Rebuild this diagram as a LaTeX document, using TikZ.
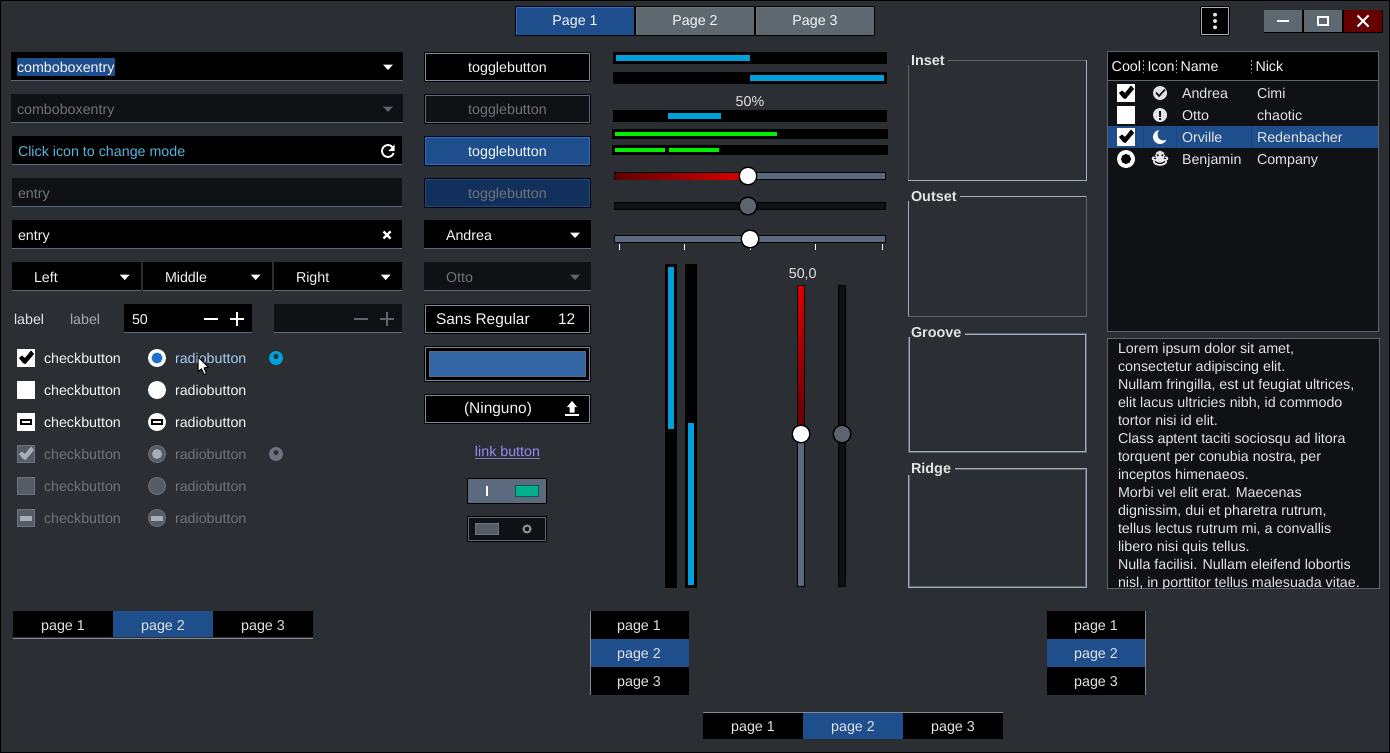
\documentclass[tikz,border=0pt]{standalone}
\usepackage{fontspec}
\setmainfont{Liberation Sans}
\definecolor{bg}{HTML}{2B2E33}
\definecolor{dis}{HTML}{0F1115}
\definecolor{slate}{HTML}{5C6A80}
\definecolor{ring}{HTML}{7D899C}
\definecolor{selb}{HTML}{1F4E8C}
\definecolor{selbb}{HTML}{2A70D0}
\definecolor{selbd}{HTML}{12305C}
\definecolor{selbdb}{HTML}{1C4A85}
\definecolor{prog}{HTML}{00A0DB}
\definecolor{dtx}{HTML}{6F737A}
\definecolor{darr}{HTML}{5D6470}
\definecolor{hdr}{HTML}{5D6870}
\definecolor{dbox}{HTML}{555C66}
\definecolor{dboxb}{HTML}{6B7380}
\definecolor{dmark}{HTML}{A8AEB8}
\definecolor{fdark}{HTML}{5C6470}
\definecolor{flight}{HTML}{A0B0C0}
\definecolor{txt}{HTML}{F6F6F6}
\definecolor{lbl}{HTML}{E4E4E4}
\definecolor{closebg}{HTML}{660000}
\definecolor{phblue}{HTML}{5AB4E0}
\definecolor{lbltwo}{HTML}{A8A8A8}
\definecolor{radblue}{HTML}{1F70D0}
\definecolor{raddis}{HTML}{6E7280}
\definecolor{linkc}{HTML}{8F8CF5}
\definecolor{linku}{HTML}{8B6FC0}
\definecolor{swatch}{HTML}{3465A4}
\definecolor{tealb}{HTML}{0A5A50}
\definecolor{teal2}{HTML}{00B08D}
\definecolor{swc}{HTML}{8A8F98}
\definecolor{lvl}{HTML}{00F000}
\definecolor{rdark}{HTML}{600000}
\definecolor{rlite}{HTML}{DC0000}
\definecolor{hdis}{HTML}{5C656F}
\definecolor{sepc}{HTML}{A0A0A0}
\definecolor{tabl}{HTML}{858A92}
\definecolor{selsep}{HTML}{1A4478}
\definecolor{hov}{HTML}{A4CFF5}
\newcounter{tn}
\tikzset{
  tx/.style={inner sep=0pt,outer sep=0pt,font=\fontsize{10.7pt}{13pt}\selectfont},
  px/.style={line width=0.75pt},
  pxx/.style={line width=1.5pt},
  bld/.style={font=\fontsize{10.8pt}{13pt}\selectfont\bfseries},
  big/.style={font=\fontsize{11.6pt}{13pt}\selectfont},
}
\newcommand\TL[5][]{\stepcounter{tn}\node[tx,anchor=base west,text=#4,#1] (t\arabic{tn}) at (#2,#3) {#5};}
\newcommand\TC[5][]{\stepcounter{tn}\node[tx,anchor=base,text=#4,#1] (t\arabic{tn}) at (#2,#3) {#5};}
\newcommand\Rc[5]{\fill[#5] (#1,#2) rectangle (#3,#4);}
\newcommand\Frm[6]{\fill[black] (#1,#2) rectangle (#3,#4);
  \fill[#6] ({#1+1},{#2+1}) rectangle ({#3-1},{#4-1});
  \fill[#5] ({#1+2},{#2+2}) rectangle ({#3-2},{#4-2});}
\newcommand\Ent[5]{\fill[#5] (#1,#2) rectangle (#3,{#4-1.3});\fill[slate] (#1,{#4-1.3}) rectangle (#3,#4);}
\newcommand\Arr[3]{\fill[#3] ({#1-5},{#2-2.5}) -- ({#1+5},{#2-2.5}) -- (#1,{#2+3}) -- cycle;}
\newcommand\ChkMark[3]{\fill[#3] ({#1+2},{#2+9}) -- ({#1+5},{#2+6.5}) -- ({#1+8},{#2+9}) -- ({#1+14},{#2+1.5}) -- ({#1+17},{#2+5}) -- ({#1+8.5},{#2+15}) -- ({#1+6},{#2+14}) -- cycle;}
\newcommand\Handle[4]{\fill[black] (#1,#2) circle (9.5);\fill[#3] (#1,#2) circle (#4);}
\begin{document}
\begin{tikzpicture}[x=0.75pt,y=-0.75pt]
\useasboundingbox (0,0) rectangle (1390,753);
\fill[black] (0,0) rectangle (1390,753);
\fill[bg] (1,1) rectangle (1389,752);

% ---- title bar
\fill[black] (515,6) rectangle (875,36);
\fill[selb] (516,7) rectangle (634,35);
\fill[hdr] (636,7) rectangle (754,35);
\fill[hdr] (756,7) rectangle (874,35);
\draw[selbb,px] (516.5,34.5) -- (516.5,7.5) -- (633.5,7.5);
\draw[dboxb,px] (636.5,34.5) -- (636.5,7.5) -- (753.5,7.5);
\draw[dboxb,px] (756.5,34.5) -- (756.5,7.5) -- (873.5,7.5);
\TC{575}{26}{txt}{Page 1}
\TC{695}{26}{txt}{Page 2}
\TC{815}{26}{txt}{Page 3}
\Frm{1200}{6}{1230}{36}{black}{dmark}
\foreach \yy in {14.7,21,27.3} {\fill[lbl] (1215,\yy) circle (2);}
\fill[black] (1264,10) rectangle (1383,33);
\fill[hdr] (1264,10) rectangle (1302,32);
\fill[hdr] (1304,10) rectangle (1342,32);
\fill[closebg] (1344,10) rectangle (1382,32);
\fill[white] (1277,20) rectangle (1289,22);
\draw[white,pxx] (1318,17) rectangle (1328,25);
\draw[white,pxx] (1357.5,15.5) -- (1368.5,26.5) (1368.5,15.5) -- (1357.5,26.5);

% ---- left column entries
\Ent{11}{52}{403}{81.3}{black}
\Rc{17}{58}{115}{76}{selb}
\TL{17}{72}{txt}{comboboxentry}
\Arr{388}{67}{white}
\Ent{11}{94}{403}{123.3}{dis}
\TL{17}{114}{dtx}{comboboxentry}
\Arr{388}{109}{darr}
\Ent{12}{136}{402}{165.3}{black}
\TL{18}{156}{phblue}{Click icon to change mode}
\draw[white,line width=1.4pt] ([shift={(20:6)}]388,151) arc[start angle=20,end angle=320,radius=6];
\fill[white] (394.5,144.5) -- (394.5,151) -- (388.5,151) -- cycle;
\Ent{12}{178}{402}{207.3}{dis}
\TL{18}{198}{dtx}{entry}
\Ent{12}{220}{402}{249.3}{black}
\TL{18}{240}{txt}{entry}
\draw[white,line width=1.8pt] (383.5,231.5) -- (390.5,238.5) (390.5,231.5) -- (383.5,238.5);
\Ent{12}{262}{141}{291.3}{black}
\Ent{143}{262}{272}{291.3}{black}
\Ent{274}{262}{402}{291.3}{black}
\TL{34}{282}{txt}{Left}
\TL{165}{282}{txt}{Middle}
\TL{296}{282}{txt}{Right}
\Arr{124.7}{277}{white}
\Arr{255.7}{277}{white}
\Arr{385.7}{277}{white}
\TL{14}{324}{lbl}{label}
\TL{70}{324}{lbltwo}{label}
\Ent{124}{304}{252}{333.3}{black}
\TL{132}{324}{txt}{50}
\fill[white] (204,318) rectangle (218,320);
\fill[white] (230,318) rectangle (244,320);
\fill[white] (236,312) rectangle (238,326);
\Ent{274}{304}{402}{333.3}{dis}
\fill[darr] (354,318) rectangle (368,320);
\fill[darr] (380,318) rectangle (394,320);
\fill[darr] (386,312) rectangle (388,326);

% ---- check buttons
\fill[white] (17,349) rectangle (35,367); \ChkMark{17}{349}{black}
\fill[white] (17,381) rectangle (35,399);
\fill[white] (17,413) rectangle (35,431);
\fill[black] (20,419) rectangle (32,425); \fill[white] (22,421) rectangle (30,423);
\foreach \yy in {445,477,509} {\fill[dbox] (17,\yy) rectangle (35,{\yy+18}); \draw[dboxb,px] (17.5,{\yy+.5}) rectangle (34.5,{\yy+17.5});}
\ChkMark{17}{445}{dmark}
\fill[dmark] (20,515.5) rectangle (32,520.5);
\foreach \yy in {363,395,427} {\TL{44}{\yy}{txt}{checkbutton}}
\foreach \yy in {459,491,523} {\TL{44}{\yy}{dtx}{checkbutton}}
% ---- radios
\fill[white] (157,358) circle (9); \fill[radblue] (157,358) circle (5.5);
\fill[white] (157,390) circle (9);
\fill[white] (157,422) circle (9);
\fill[black] (151,419) rectangle (163,425); \fill[white] (153,421) rectangle (161,423);
\foreach \yy in {454,486,518} {\fill[dboxb] (157,\yy) circle (9); \fill[dbox] (157,\yy) circle (8);}
\fill[dmark] (157,454) circle (5);
\fill[dmark] (151,515.5) rectangle (163,520.5);
\TL{175}{363}{hov}{radiobutton}
\foreach \yy in {395,427} {\TL{175}{\yy}{txt}{radiobutton}}
\foreach \yy in {459,491,523} {\TL{175}{\yy}{dtx}{radiobutton}}
\fill[prog] (276,358) circle (7); \fill[bg] (276,356.5) circle (2.5);
\fill[raddis] (276,454) circle (7); \fill[bg] (276,452.5) circle (2.5);
% cursor
\draw[black,px,fill=white,line join=round] (198,357) -- (198,372) -- (201.5,368.8) -- (204,374.5) -- (206.5,373.5) -- (204,367.8) -- (208.5,367.5) -- cycle;

% ---- second column
\Frm{424}{52}{591}{82}{black}{ring}
\TC{507.5}{72}{txt}{togglebutton}
\Frm{424}{94}{591}{124}{dis}{slate}
\TC{507.5}{114}{dtx}{togglebutton}
\Frm{424}{136}{591}{166}{selb}{selbb}
\TC{507.5}{156}{txt}{togglebutton}
\Frm{424}{178}{591}{208}{selbd}{selbdb}
\TC{507.5}{198}{dtx}{togglebutton}
\Ent{424}{220}{591}{249.3}{black}
\TL{446}{240}{txt}{Andrea}
\Arr{575}{235}{white}
\Ent{424}{262}{591}{291.3}{dis}
\TL{446}{282}{dtx}{Otto}
\Arr{575}{277}{darr}
\Frm{424}{304}{591}{334}{black}{ring}
\TL[big]{436}{324}{txt}{Sans Regular}
\TL[big]{558}{324}{txt}{12}
\Frm{424}{346}{591}{382}{black}{ring}
\fill[slate] (429,351) rectangle (586,377);
\fill[swatch] (430,352) rectangle (585,376);
\Frm{424}{394}{591}{424}{black}{ring}
\TC[big]{498}{413}{txt}{(Ninguno)}
\fill[white] (572,401) -- (577,407) -- (574.5,407) -- (574.5,412.5) -- (569.5,412.5) -- (569.5,407) -- (567,407) -- cycle;
\fill[white] (565,413.8) rectangle (579,415.8);
\TC{507.5}{456}{linkc}{link button}
\fill[linku] (475,458) rectangle (540,459);
\fill[black] (467,478) rectangle (547,504); \fill[slate] (468,479) rectangle (546,503);
\fill[white] (486,486) rectangle (488.3,496);
\fill[tealb] (515,485) rectangle (539,497);
\fill[teal2] (516,486) rectangle (538,496);
\fill[black] (467,516) rectangle (547,542); \fill[slate] (468,517) rectangle (546,541); \fill[dis] (469,518) rectangle (545,540);
\fill[dboxb] (475,523) rectangle (499,535); \fill[dbox] (476,524) rectangle (498,534);
\draw[swc,line width=1.5pt] (527,529) circle (3.5);

% ---- progress bars
\Rc{613}{52}{887}{64}{black}
\Rc{616}{55}{750}{61}{prog}
\Rc{613}{72}{887}{84}{black}
\Rc{750}{75}{884}{81}{prog}
\TC{750}{106}{lbl}{50\%}
\Rc{613}{110}{887}{122}{black}
\Rc{668}{113}{721}{119}{prog}
\Rc{612}{129}{888}{139}{black}
\Rc{615}{132}{777}{136}{lvl}
\Rc{612}{145}{888}{155}{black}
\Rc{615}{148}{665}{152}{lvl}
\Rc{669}{148}{719}{152}{lvl}
% horizontal scales
\Rc{614}{172}{886}{180}{black}
\fill[slate] (748,173) rectangle (885,179);
\shade[left color=rdark,right color=rlite] (615,173) rectangle (748,179);
\Handle{748}{176}{white}{8}
\Rc{614}{202}{886}{210}{black}
\Rc{615}{203}{885}{209}{dis}
\Handle{748}{206}{hdis}{8}
\Rc{614}{235}{886}{243}{black}
\Rc{615}{236}{885}{242}{slate}
\foreach \xx in {619.3,684.3,815.3,881.7} {\fill[white] (\xx,244) rectangle ({\xx+1},250);}
\fill[white] (750.3,248) rectangle (751.3,250);
\Handle{750}{239}{white}{8}
% vertical progress
\Rc{665}{264}{677}{588}{black}
\Rc{668}{267}{674}{429}{prog}
\Rc{685}{264}{697}{588}{black}
\Rc{688}{423}{694}{585}{prog}
\TC{802.7}{278}{lbl}{50,0}
\Rc{797}{285}{805}{587}{black}
\fill[slate] (798,434) rectangle (804,586);
\shade[top color=rlite,bottom color=rdark] (798,286) rectangle (804,434);
\Handle{801}{434}{white}{8}
\Rc{838}{285}{846}{587}{black}
\Rc{839}{286}{845}{586}{dis}
\Handle{842}{434}{hdis}{8}

% ---- frames
\draw[fdark,px] (908.5,65) -- (908.5,180.5);
\draw[fdark,px] (948,60.5) -- (1086.5,60.5);
\draw[flight,px] (908,180.5) -- (1086.5,180.5) -- (1086.5,60);
\TL[bld]{911}{65.3}{lbl}{Inset}
\draw[flight,px] (908.5,201) -- (908.5,316.5);
\draw[flight,px] (960,196.5) -- (1086.5,196.5);
\draw[fdark,px] (908,316.5) -- (1086.5,316.5) -- (1086.5,196);
\TL[bld]{911}{201.3}{lbl}{Outset}
% groove
\draw[fdark,px] (908.5,337) -- (908.5,452.5) -- (1086.5,452.5) -- (1086.5,333.5) -- (965,333.5);
\draw[flight,px] (909.5,337) -- (909.5,451.5) -- (1085.5,451.5) -- (1085.5,334.5) -- (965,334.5);
\TL[bld]{911}{337.3}{lbl}{Groove}
% ridge
\draw[flight,px] (908.5,475) -- (908.5,587.5) -- (1086.5,587.5) -- (1086.5,468.5) -- (955,468.5);
\draw[fdark,px] (909.5,475) -- (909.5,586.5) -- (1085.5,586.5) -- (1085.5,469.5) -- (955,469.5);
\TL[bld]{911}{473.3}{lbl}{Ridge}

% ---- tree view
\fill[dis] (1107,51) rectangle (1379,332);
\draw[fdark,px] (1107.5,51.5) rectangle (1378.5,331.5);
\fill[black] (1108,52) rectangle (1378,80);
\fill[fdark] (1108,80) rectangle (1378,81);
\TL{1111.7}{71.5}{txt}{Cool}
\TL{1147.5}{71.5}{txt}{Icon}
\TL{1180.5}{71.5}{txt}{Name}
\TL{1255.5}{71.5}{txt}{Nick}
\foreach \xx in {1143.5,1176.5,1251} {\draw[sepc,px,dash pattern=on 1.5pt off 1.5pt] (\xx,60) -- (\xx,73);}
\fill[selb] (1108,126) rectangle (1378,148);
\foreach \xx in {1143,1176,1251} {\fill[selsep] (\xx,126) rectangle ({\xx+1},148);}
\fill[white] (1117,84) rectangle (1135,102); \ChkMark{1117}{84}{black}
\fill[white] (1117,106) rectangle (1135,124);
\fill[white] (1117,128) rectangle (1135,146); \ChkMark{1117}{128}{black}
\fill[white] (1126,159) circle (9); \fill[black] (1126,159) circle (5);
% icons
\fill[lbl] (1160,93) circle (7);
\draw[dis,line width=1.2pt] (1156,92.5) -- (1159,96) -- (1165,89.5);
\fill[lbl] (1160,115) circle (7);
\fill[dis] (1158.9,110.5) rectangle (1161.1,116.5); \fill[dis] (1158.9,117.7) rectangle (1161.1,120);
\fill[white] (1160,137) circle (7); \fill[selb] (1163.5,134.5) circle (6);
% monkey
\fill[lbl] (1160,155.5) circle (4.8);
\fill[lbl] (1153.8,158.5) circle (2.1);
\fill[lbl] (1166.2,158.5) circle (2.1);
\fill[lbl] (1160,161.8) ellipse (7 and 4);
\fill[dis] (1157.7,155.2) circle (1.1);
\fill[dis] (1162.3,155.2) circle (1.1);
\draw[dis,line width=0.9pt] (1155,161.5) .. controls (1158,164) and (1162,164) .. (1165,161.5);
\draw[dis,line width=0.6pt] (1154,158.5) -- (1156,158.5) (1164,158.5) -- (1166,158.5);
\TL{1182}{98}{lbl}{Andrea}
\TL{1257}{98}{lbl}{Cimi}
\TL{1182}{120}{lbl}{Otto}
\TL{1257}{120}{lbl}{chaotic}
\TL{1182}{142}{lbl}{Orville}
\TL{1257}{142}{lbl}{Redenbacher}
\TL{1182}{164}{lbl}{Benjamin}
\TL{1257}{164}{lbl}{Company}

% ---- text view
\fill[dis] (1107,338) rectangle (1380,589);
\draw[fdark,px] (1107.5,338.5) rectangle (1379,588.5);
\begin{scope}
\clip (1108,339) rectangle (1378,588);
\TL{1118}{353}{lbl}{Lorem ipsum dolor sit amet,}
\TL{1118}{371}{lbl}{consectetur adipiscing elit.}
\TL{1118}{389}{lbl}{Nullam fringilla, est ut feugiat ultrices,}
\TL{1118}{407}{lbl}{elit lacus ultricies nibh, id commodo}
\TL{1118}{425}{lbl}{tortor nisi id elit.}
\TL{1118}{443}{lbl}{Class aptent taciti sociosqu ad litora}
\TL{1118}{461}{lbl}{torquent per conubia nostra, per}
\TL{1118}{479}{lbl}{inceptos himenaeos.}
\TL{1118}{497}{lbl}{Morbi vel elit erat. Maecenas}
\TL{1118}{515}{lbl}{dignissim, dui et pharetra rutrum,}
\TL{1118}{533}{lbl}{tellus lectus rutrum mi, a convallis}
\TL{1118}{551}{lbl}{libero nisi quis tellus.}
\TL{1118}{569}{lbl}{Nulla facilisi. Nullam eleifend lobortis}
\TL{1118}{587}{lbl}{nisl, in porttitor tellus malesuada vitae.}
\end{scope}

% ---- notebooks
\fill[black] (13,611) rectangle (313,637);
\fill[selb] (113,611) rectangle (213,637);
\fill[tabl] (13,637.5) rectangle (313,638.5);
\TC{63}{630}{lbl}{page 1}
\TC{163}{630}{lbl}{page 2}
\TC{263}{630}{lbl}{page 3}
\fill[black] (591,611) rectangle (689,695);
\fill[selb] (591,639) rectangle (689,667);
\fill[tabl] (590,611) rectangle (591,695);
\TC{639}{630}{lbl}{page 1}
\TC{639}{658}{lbl}{page 2}
\TC{639}{686}{lbl}{page 3}
\fill[black] (1047,611) rectangle (1145,695);
\fill[selb] (1047,639) rectangle (1145,667);
\fill[tabl] (1145,611) rectangle (1146,695);
\TC{1096}{630}{lbl}{page 1}
\TC{1096}{658}{lbl}{page 2}
\TC{1096}{686}{lbl}{page 3}
\fill[black] (703,713) rectangle (1003,739);
\fill[selb] (803,713) rectangle (903,739);
\fill[tabl] (703,712) rectangle (1003,713);
\TC{753}{731}{lbl}{page 1}
\TC{853}{731}{lbl}{page 2}
\TC{953}{731}{lbl}{page 3}
\end{tikzpicture}
\end{document}
